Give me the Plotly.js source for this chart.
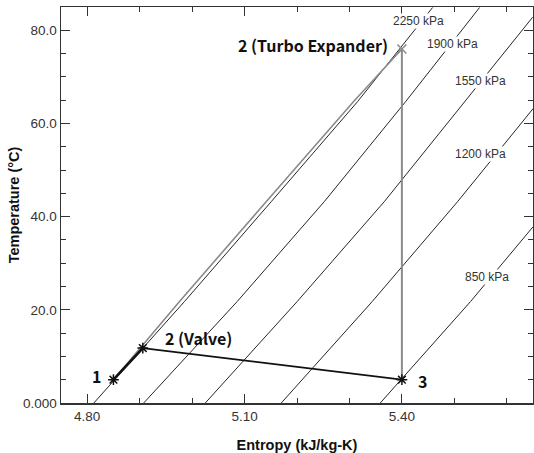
<!DOCTYPE html>
<html>
<head>
<meta charset="utf-8">
<script src="https://cdn.plot.ly/plotly-3.0.1.min.js"></script>
<style>html,body{margin:0;padding:0;background:#fff;}#chart{width:534px;height:453px;}</style>
</head>
<body>
<div id="chart"></div>
<script>
// Isobars (entropy kJ/kg-K, temperature °C)
const isoLabels = ["2250 kPa", "1900 kPa", "1550 kPa", "1200 kPa", "850 kPa"];
const iso2250S = [4.8126, 4.9856, 5.1515, 5.3156, 5.4586];
const iso2250T = [0, 21.8, 43.3, 64.7, 84.9];
const iso1900S = [4.9077, 5.0861, 5.2526, 5.4072, 5.5482];
const iso1900T = [0, 21.8, 43.3, 64.7, 84.9];
const iso1550S = [5.0251, 5.2005, 5.3670, 5.5196, 5.6493];
const iso1550T = [0, 21.8, 43.3, 64.7, 82.8];
const iso1200S = [5.1700, 5.3436, 5.5068, 5.6503];
const iso1200T = [0, 21.8, 43.3, 63.2];
const iso850S = [5.3588, 5.5311, 5.6499];
const iso850T = [0, 21.8, 37.8];

// State points
const pointNames = ["1", "2 (Valve)", "3", "2 (Turbo Expander)"];
const pointS = [4.850, 4.906, 5.400, 5.400];
const pointT = [5.0, 11.8, 5.0, 76.0];

// Gray heating path 1 -> 2 (Turbo Expander)
const heatS = [4.850, 4.976, 5.142, 5.308, 5.400];
const heatT = [5.0, 21.8, 43.3, 64.7, 76.0];

// Axis ticks
const xTickVals = [4.80, 5.10, 5.40];
const xTickText = ["4.80", "5.10", "5.40"];
const yTickVals = [0, 20, 40, 60, 80];
const yTickText = ["0.000", "20.0", "40.0", "60.0", "80.0"];

const isoS = [iso2250S, iso1900S, iso1550S, iso1200S, iso850S];
const isoT = [iso2250T, iso1900T, iso1550T, iso1200T, iso850T];

const traces = [];
for (let i = 0; i < isoS.length; i++) {
  traces.push({x: isoS[i], y: isoT[i], type: 'scatter', mode: 'lines',
    line: {color: '#262626', width: 1}, hoverinfo: 'skip'});
}
// gray heating path 1 -> 2T
traces.push({x: heatS, y: heatT, type: 'scatter', mode: 'lines',
  line: {color: '#8a8a8a', width: 1.6}});
// gray isentropic line 2T -> 3
traces.push({x: [pointS[3], pointS[2]], y: [pointT[3], pointT[2]], type: 'scatter', mode: 'lines',
  line: {color: '#8a8a8a', width: 2}});
// black: 1 -> 2V
traces.push({x: [pointS[0], pointS[1]], y: [pointT[0], pointT[1]], type: 'scatter', mode: 'lines',
  line: {color: '#111', width: 2.6}});
// black: 2V -> 3
traces.push({x: [pointS[1], pointS[2]], y: [pointT[1], pointT[2]], type: 'scatter', mode: 'lines',
  line: {color: '#111', width: 1.8}});
// markers
traces.push({x: pointS.slice(0, 3), y: pointT.slice(0, 3), type: 'scatter', mode: 'markers',
  marker: {symbol: 'asterisk-open', size: 9, color: '#111', line: {color: '#111', width: 1.5}}});
traces.push({x: [pointS[3]], y: [pointT[3]], type: 'scatter', mode: 'markers',
  marker: {symbol: 'x-thin-open', size: 9, color: '#888', line: {color: '#888', width: 1.5}}});

const isoLabelPos = [[5.432, 81.9], [5.497, 77.0], [5.549, 69.2], [5.549, 53.4], [5.562, 27.0]];
const ptLabelPos = [[4.8168, 5.9], [5.0113, 13.9], [5.4395, 4.7], [5.2297, 76.8]];

const annotations = [];
for (let i = 0; i < isoLabels.length; i++) {
  annotations.push({x: isoLabelPos[i][0], y: isoLabelPos[i][1], text: isoLabels[i], showarrow: false,
    bgcolor: 'white', borderpad: 0,
    font: {family: 'Liberation Sans, Arial, sans-serif', size: 12, color: '#333'}});
}
for (let i = 0; i < pointNames.length; i++) {
  annotations.push({x: ptLabelPos[i][0], y: ptLabelPos[i][1], text: pointNames[i], showarrow: false,
    font: {family: 'Noto Sans CJK KR, Noto Sans, sans-serif', size: 16, color: '#111', weight: 'bold'}});
}

const tickFont = {family: 'Liberation Sans, Arial, sans-serif', size: 13.5, color: '#333'};
const titleFont = {family: 'Liberation Sans, Arial, sans-serif', size: 14.5, color: '#111', weight: 'bold'};

const layout = {
  width: 534, height: 453,
  margin: {l: 61, r: 1, t: 7, b: 50},
  paper_bgcolor: 'white', plot_bgcolor: 'white',
  showlegend: false,
  xaxis: {
    range: [4.75, 5.65], showgrid: false, zeroline: false,
    showline: true, linecolor: '#333', linewidth: 1.5, mirror: 'ticks',
    ticks: 'inside', ticklen: 9, tickwidth: 1.2, tickcolor: '#333',
    tickmode: 'array', tickvals: xTickVals, ticktext: xTickText, tickfont: tickFont,
    minor: {tick0: 4.8, dtick: 0.1, ticks: 'inside', ticklen: 5, tickwidth: 1, tickcolor: '#333', showgrid: false},
    title: {text: 'Entropy (kJ/kg-K)', font: titleFont, standoff: 17}
  },
  yaxis: {
    range: [0, 85], showgrid: false, zeroline: false,
    showline: true, linecolor: '#333', linewidth: 1.5, mirror: 'ticks',
    ticks: 'inside', ticklen: 9, tickwidth: 1.2, tickcolor: '#333',
    tickmode: 'array', tickvals: yTickVals, ticktext: yTickText, tickfont: tickFont,
    minor: {tick0: 0, dtick: 5, ticks: 'inside', ticklen: 5, tickwidth: 1, tickcolor: '#333', showgrid: false},
    title: {text: 'Temperature (°C)', font: titleFont, standoff: 0}
  },
  annotations: annotations
};

Plotly.newPlot('chart', traces, layout, {staticPlot: true, displayModeBar: false});
</script>
</body>
</html>
